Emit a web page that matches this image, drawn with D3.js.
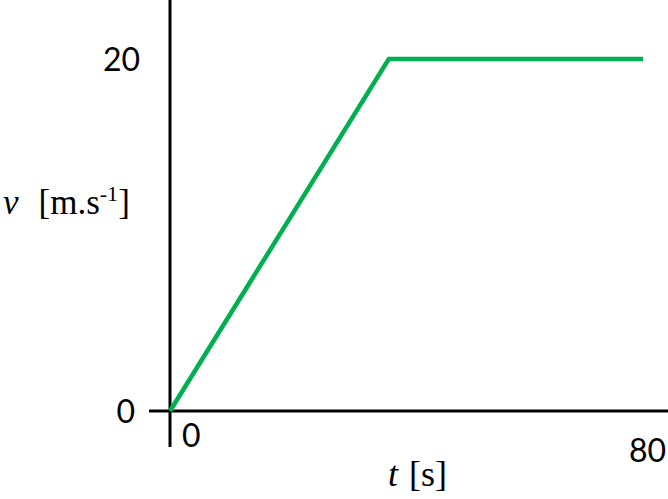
<!DOCTYPE html>
<html>
<head>
<meta charset="utf-8">
<script src="https://cdn.jsdelivr.net/npm/d3@7"></script>
<style>
  body { margin: 0; background: #fff; }
  svg { display: block; }
</style>
</head>
<body>
<script>
// velocity-time data
const times = [0, 37, 80];
const speeds = [0, 20, 20];
const yTicks = [0, 20];
const xTicks = [0, 80];

const width = 668, height = 499;

const x = d3.scaleLinear().domain([0, 80]).range([170, 643]);
const y = d3.scaleLinear().domain([0, 20]).range([411, 59]);

const svg = d3.select("body").append("svg")
    .attr("width", width)
    .attr("height", height);

// axes
svg.append("line")
    .attr("x1", x(0)).attr("x2", x(0))
    .attr("y1", 0).attr("y2", 447)
    .attr("stroke", "#000").attr("stroke-width", 3);

svg.append("line")
    .attr("x1", 149).attr("x2", width)
    .attr("y1", y(0)).attr("y2", y(0))
    .attr("stroke", "#000").attr("stroke-width", 3);

// tick labels
svg.append("g")
    .style("font", "32px Lato, 'Open Sans', sans-serif")
  .selectAll("text")
  .data(yTicks)
  .join("text")
    .attr("x", d => d === 0 ? 135 : 140)
    .attr("y", d => y(d))
    .attr("dy", "0.36em")
    .attr("text-anchor", "end")
    .text(d => d);

svg.append("g")
    .style("font", "32px Lato, 'Open Sans', sans-serif")
  .selectAll("text")
  .data(xTicks)
  .join("text")
    .attr("x", d => d === 0 ? x(d) + 12 : x(d) + 23)
    .attr("y", d => d === 0 ? 447 : 462)
    .attr("text-anchor", d => d === 0 ? "start" : "end")
    .text(d => d);

// axis titles
const yt = svg.append("text")
    .attr("x", 3).attr("y", 214)
    .style("font", "35px 'Liberation Serif', 'DejaVu Serif', serif");
yt.append("tspan").style("font-style", "italic").text("v");
yt.append("tspan").attr("dx", 20).text("[m.s");
yt.append("tspan").attr("dy", -13).style("font-size", "22px").text("-1");
yt.append("tspan").attr("dy", 13).text("]");

const xt = svg.append("text")
    .attr("x", 388).attr("y", 486)
    .style("font", "36px 'Liberation Serif', 'DejaVu Serif', serif");
xt.append("tspan").style("font-style", "italic").text("t");
xt.append("tspan").attr("dx", 11).text("[s]");

// the line
svg.append("path")
    .datum(d3.zip(times, speeds))
    .attr("fill", "none")
    .attr("stroke", "#00B050")
    .attr("stroke-width", 4.5)
    .attr("stroke-linejoin", "miter")
    .attr("d", d3.line().x(d => x(d[0])).y(d => y(d[1])));
</script>
</body>
</html>
